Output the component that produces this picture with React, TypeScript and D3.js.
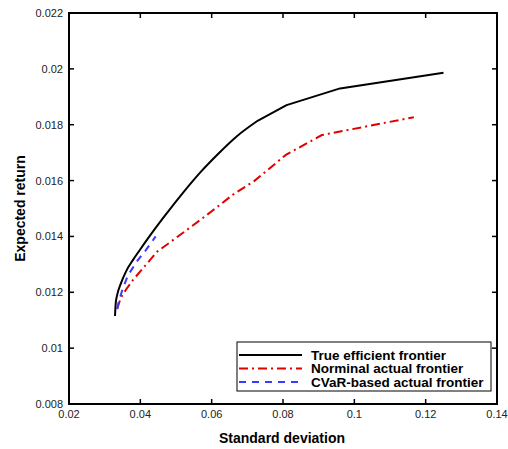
import React from "react";
import * as d3 from "d3";

// True efficient frontier: smooth lower part, then piecewise-linear upper part
const trueSdLow = [0.0329, 0.0331, 0.0335, 0.0345, 0.036, 0.038, 0.040, 0.043, 0.047, 0.052, 0.057, 0.062, 0.067, 0.073];
const trueRetLow = [0.01115, 0.0116, 0.0119, 0.0123, 0.01275, 0.01317, 0.01354, 0.01408, 0.01476, 0.01557, 0.01632, 0.01698, 0.01758, 0.01815];
const trueSdHigh = [0.073, 0.081, 0.096, 0.125];
const trueRetHigh = [0.01815, 0.0187, 0.0193, 0.01986];

const nomSd = [0.0335, 0.0345, 0.036, 0.038, 0.041, 0.0447, 0.0495, 0.0548, 0.06, 0.066, 0.0719, 0.0808, 0.0909, 0.1167];
const nomRet = [0.0114, 0.0118, 0.0121, 0.01245, 0.0129, 0.01345, 0.0139, 0.0144, 0.0149, 0.0155, 0.01598, 0.01692, 0.01763, 0.01827];

const cvarSd = [0.0335, 0.034, 0.035, 0.0365, 0.039, 0.0415, 0.0443];
const cvarRet = [0.0114, 0.0117, 0.0121, 0.0126, 0.0131, 0.0135, 0.0140];

const xTicks = [0.02, 0.04, 0.06, 0.08, 0.1, 0.12, 0.14];
const yTicks = [0.008, 0.01, 0.012, 0.014, 0.016, 0.018, 0.02, 0.022];

const legendLabels = ["True efficient frontier", "Norminal actual frontier", "CVaR-based actual frontier"];

export default function App() {
  const W = 508, H = 449;
  const left = 69, right = 497, top = 13, bottom = 404;
  const x = d3.scaleLinear().domain([0.02, 0.14]).range([left, right]);
  const y = d3.scaleLinear().domain([0.008, 0.022]).range([bottom, top]);
  const smooth = d3.line<[number, number]>().x(d => x(d[0])).y(d => y(d[1])).curve(d3.curveMonotoneX);
  const straight = d3.line<[number, number]>().x(d => x(d[0])).y(d => y(d[1]));
  const zip = (a: number[], b: number[]) => a.map((v, i) => [v, b[i]] as [number, number]);
  const font = "Arial, 'Liberation Sans', sans-serif";
  const colors = ["#000", "#e00000", "#3a3aff"];
  const dashes = ["none", "9,4,2,4", "7,6"];
  const trueLow = smooth(zip(trueSdLow, trueRetLow)) || "";
  const trueHigh = straight(zip(trueSdHigh, trueRetHigh)) || "";
  const nomPath = straight(zip(nomSd, nomRet)) || "";
  const cvarPath = straight(zip(cvarSd, cvarRet)) || "";
  const fmt = (v: number) => String(+v.toFixed(3));
  return (
    <svg width={W} height={H} style={{ position: "absolute", left: 0, top: 0 }}>
      <rect width={W} height={H} fill="#fff" />
      <path d={trueLow + trueHigh.replace(/^M/, "L")} fill="none" stroke={colors[0]} strokeWidth={2} strokeLinejoin="round" />
      <path d={nomPath} fill="none" stroke={colors[1]} strokeWidth={2} strokeDasharray={dashes[1]} />
      <path d={cvarPath} fill="none" stroke={colors[2]} strokeWidth={2} strokeDasharray={dashes[2]} />
      <rect x={left} y={top} width={right - left} height={bottom - top} fill="none" stroke="#000" strokeWidth={2} />
      {xTicks.map((t, i) => (
        <g key={"x" + i}>
          <line x1={x(t)} x2={x(t)} y1={bottom} y2={bottom - 5} stroke="#000" strokeWidth={1.5} />
          <line x1={x(t)} x2={x(t)} y1={top} y2={top + 5} stroke="#000" strokeWidth={1.5} />
          <text x={x(t)} y={418} textAnchor="middle" fontFamily={font} fontSize={11} fill="#222">{fmt(t)}</text>
        </g>
      ))}
      {yTicks.map((t, i) => (
        <g key={"y" + i}>
          <line x1={left} x2={left + 5} y1={y(t)} y2={y(t)} stroke="#000" strokeWidth={1.5} />
          <line x1={right} x2={right - 5} y1={y(t)} y2={y(t)} stroke="#000" strokeWidth={1.5} />
          <text x={63} y={y(t) + 4} textAnchor="end" fontFamily={font} fontSize={11} fill="#222">{fmt(t)}</text>
        </g>
      ))}
      <text x={282} y={443} textAnchor="middle" fontFamily={font} fontSize={14} fontWeight="bold">Standard deviation</text>
      <text transform={`translate(25,${(top + bottom) / 2}) rotate(-90)`} textAnchor="middle" fontFamily={font} fontSize={14} fontWeight="bold">Expected return</text>
      <rect x={237} y={342} width={254} height={49} fill="#fff" stroke="#000" strokeWidth={1} />
      {legendLabels.map((l, i) => (
        <g key={"l" + i}>
          <line x1={239} x2={302} y1={355 + i * 13.5} y2={355 + i * 13.5} stroke={colors[i]} strokeWidth={2} strokeDasharray={dashes[i]} />
          <text x={311} y={359.5 + i * 13.5} fontFamily={font} fontSize={13.5} fontWeight="bold">{l}</text>
        </g>
      ))}
    </svg>
  );
}
